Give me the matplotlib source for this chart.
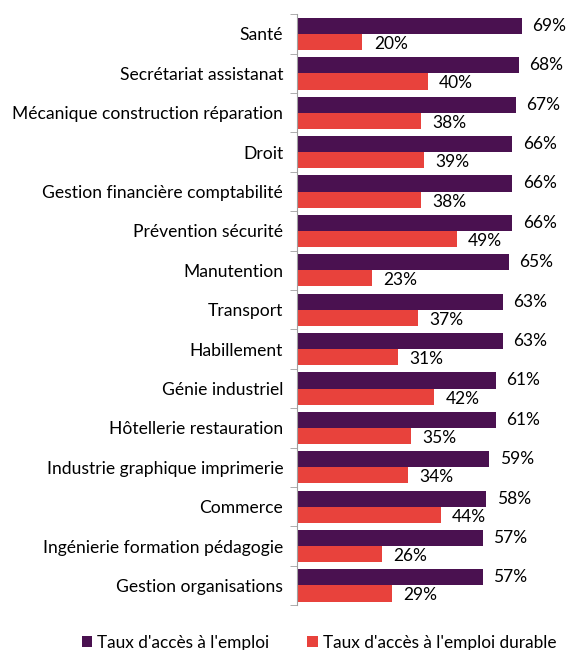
import numpy as np
import matplotlib.pyplot as plt

plt.rcParams['font.family'] = ['Lato', 'DejaVu Sans']

categories = ["Santé", "Secrétariat assistanat", "Mécanique construction réparation",
              "Droit", "Gestion financière comptabilité", "Prévention sécurité",
              "Manutention", "Transport", "Habillement", "Génie industriel",
              "Hôtellerie restauration", "Industrie graphique imprimerie",
              "Commerce", "Ingénierie formation pédagogie", "Gestion organisations"]
acces = [69, 68, 67, 66, 66, 66, 65, 63, 63, 61, 61, 59, 58, 57, 57]
durable = [20, 40, 38, 39, 38, 49, 23, 37, 31, 42, 35, 34, 44, 26, 29]

purple = '#4A1150'
red = '#E8423C'

fig = plt.figure(figsize=(5.67, 6.5), dpi=100)
ax = fig.add_axes([0.524, 0.069, 0.46, 0.909])

y = np.arange(len(categories))
h = 0.41
ax.barh(y - h / 2, acces, height=h, color=purple, label="Taux d'accès à l'emploi")
ax.barh(y + h / 2, durable, height=h, color=red, label="Taux d'accès à l'emploi durable")

for yi, v in zip(y, acces):
    ax.text(v + 3.2, yi - h / 2, f"{v}%", va='center', ha='left', fontsize=12.5)
for yi, v in zip(y, durable):
    ax.text(v + 3.5, yi + h / 2 + 0.05, f"{v}%", va='center', ha='left', fontsize=12.5)

ax.set_xlim(0, 80)
ax.set_ylim(len(categories) - 0.5, -0.5)
ax.set_yticks(y)
ax.set_yticklabels(categories, fontsize=12.6)
ax.tick_params(axis='y', length=0, pad=10)
ax.set_yticks(np.arange(-0.5, len(categories), 1), minor=True)
ax.tick_params(axis='y', which='minor', length=5, color='#A0A0A0')
ax.set_xticks([])
for s in ['top', 'right', 'bottom']:
    ax.spines[s].set_visible(False)
ax.spines['left'].set_color('#A0A0A0')

fig.legend(loc='lower center', bbox_to_anchor=(0.563, -0.025), ncol=2, frameon=False,
           fontsize=12.4, handlelength=0.6, handleheight=0.6, columnspacing=2.2,
           handletextpad=0.3)

fig.savefig('out.png', dpi=100)
